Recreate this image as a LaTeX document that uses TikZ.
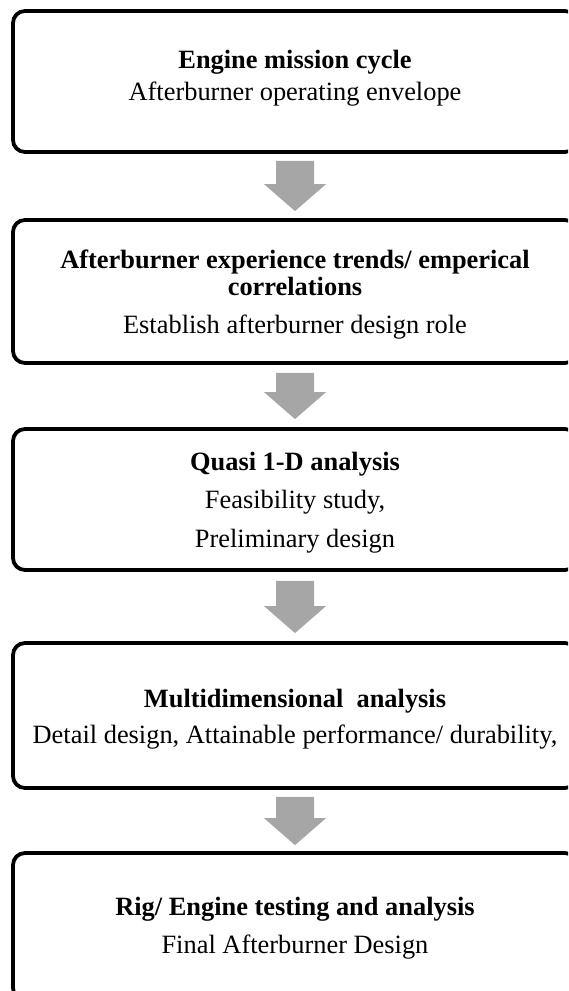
\documentclass[tikz,border=0pt]{standalone}
\usepackage{fontspec}
\setmainfont{Liberation Serif}
\usetikzlibrary{calc}
\definecolor{arrowgray}{HTML}{A6A6A6}
\tikzset{
  stagebox/.style={draw=black, line width=3.8pt, rounded corners=12pt,
    minimum width=564pt, inner sep=0pt, fill=white},
  headline/.style={anchor=base, inner sep=0pt, font=\fontsize{26.4}{30}\selectfont\bfseries},
  subline/.style={anchor=base, inner sep=0pt, font=\fontsize{26.4}{30}\selectfont},
  flowarrow/.style={fill=arrowgray, draw=none}
}
% block arrow from a top coordinate down to a tip coordinate (head 27 long)
\newcommand\blockdown[2]{%
  \fill[flowarrow] ($(#1)+(-19,0)$) -- ($(#1)+(19,0)$) -- ($(#2)+(19,-27)$)
    -- ($(#2)+(31,-27)$) -- (#2) -- ($(#2)+(-31,-27)$) -- ($(#2)+(-19,-27)$) -- cycle;}
\begin{document}
\begin{tikzpicture}[x=1pt, y=-1pt]
  \useasboundingbox (0,0) rectangle (568,991);
  \clip (0,0) rectangle (568,991);

  % stages
  \node[stagebox, minimum height=141pt] (b1) at (295,81.5) {};
  \node[stagebox, minimum height=143pt] (b2) at (295,291.5) {};
  \node[stagebox, minimum height=141pt] (b3) at (295,499.5) {};
  \node[stagebox, minimum height=145pt] (b4) at (295,715.5) {};
  \node[stagebox, minimum height=147pt] (b5) at (295,926.5) {};

  % stage texts
  \node[headline] (t1a) at (295,68) {Engine mission cycle};
  \node[subline]  (t1b) at (295,100) {Afterburner operating envelope};

  \node[headline] (t2a) at (295,268) {Afterburner experience trends/ emperical};
  \node[headline] (t2b) at (295,295) {correlations};
  \node[subline]  (t2c) at (295,333) {Establish afterburner design role};

  \node[headline] (t3a) at (295,470) {Quasi 1-D analysis};
  \node[subline]  (t3b) at (295,508) {Feasibility study,};
  \node[subline]  (t3c) at (295,547) {Preliminary design};

  \node[headline] (t4a) at (295,707) {Multidimensional\ \ analysis};
  \node[subline]  (t4b) at (295,743) {Detail design, Attainable performance/ durability,};

  \node[headline] (t5a) at (295,915) {Rig/ Engine testing and analysis};
  \node[subline]  (t5b) at (295,953) {Final Afterburner Design};

  % connectors between stages
  \coordinate (a1top) at ($(b1.south)+(0,7)$);
  \coordinate (a1tip) at ($(b2.north)+(0,-7)$);
  \coordinate (a2top) at ($(b2.south)+(0,8)$);
  \coordinate (a2tip) at ($(b3.north)+(0,-8)$);
  \coordinate (a3top) at ($(b3.south)+(0,9)$);
  \coordinate (a3tip) at ($(b4.north)+(0,-8)$);
  \coordinate (a4top) at ($(b4.south)+(0,7)$);
  \coordinate (a4tip) at ($(b5.north)+(0,-6)$);
  \blockdown{a1top}{a1tip}
  \blockdown{a2top}{a2tip}
  \blockdown{a3top}{a3tip}
  \blockdown{a4top}{a4tip}
\end{tikzpicture}
\end{document}
